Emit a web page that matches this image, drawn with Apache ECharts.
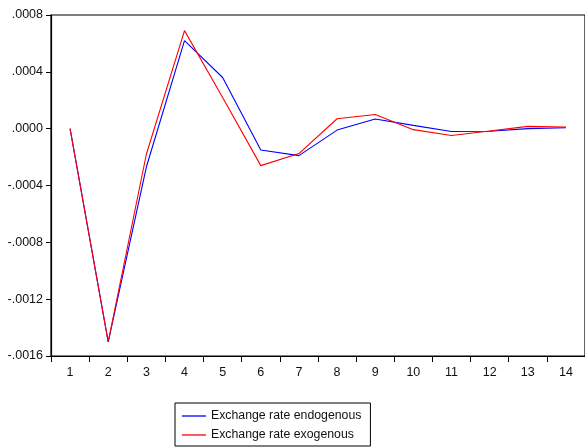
<!DOCTYPE html>
<html>
<head>
<meta charset="utf-8">
<script src="https://cdn.jsdelivr.net/npm/echarts@6/dist/echarts.min.js"></script>
<style>
  html, body { margin: 0; padding: 0; background: #fff; }
  #chart { width: 585px; height: 448px; }
</style>
</head>
<body>
<div id="chart"></div>
<script>
// Response periods
const periods = ['1','2','3','4','5','6','7','8','9','10','11','12','13','14'];

// Response of the exchange rate, endogenous specification
const endogenous = [0, -0.0015, -0.00027, 0.00062, 0.00036, -0.00015, -0.00019,
  -0.00001, 0.000068, 0.000023, -0.00002, -0.000018, 0.0, 0.000006];

// Response of the exchange rate, exogenous specification
const exogenous = [0, -0.0015, -0.00018, 0.00069, 0.00022, -0.00026, -0.000175,
  0.00007, 0.0001, -0.000007, -0.000048, -0.000016, 0.000016, 0.000012];

const seriesNames = ['Exchange rate endogenous', 'Exchange rate exogenous'];

const fontFamily = 'Liberation Sans, Arial, sans-serif';

// ".0008", "-.0004" style tick labels
function fmt(v) {
  let s = (Math.abs(v) < 1e-12 ? 0 : v).toFixed(4);
  return s.replace(/^(-?)0\./, '$1.');
}

const chart = echarts.init(document.getElementById('chart'), null, { renderer: 'canvas' });

chart.setOption({
  animation: false,
  backgroundColor: '#fff',
  grid: {
    left: 51, top: 15, right: -2, bottom: 92,
    show: true, borderColor: '#000', borderWidth: 1.2, backgroundColor: 'transparent'
  },
  legend: {
    orient: 'vertical',
    left: 175, top: 403,
    data: seriesNames,
    icon: 'rect',
    itemWidth: 24, itemHeight: 1.3,
    itemGap: 5,
    padding: [6, 9, 4, 7],
    borderColor: '#000', borderWidth: 1,
    textStyle: { fontFamily: fontFamily, fontSize: 12.3, color: '#111', lineHeight: 14 }
  },
  xAxis: {
    type: 'category',
    data: periods,
    boundaryGap: true,
    axisLine: { onZero: false, lineStyle: { color: '#000', width: 1.2 } },
    axisTick: { show: true, length: 6, lineStyle: { color: '#000', width: 1 } },
    axisLabel: { margin: 10, fontFamily: fontFamily, fontSize: 12.5, color: '#111' },
    splitLine: { show: false }
  },
  yAxis: {
    type: 'value',
    min: -0.0016, max: 0.0008, interval: 0.0004,
    axisLine: { show: true, lineStyle: { color: '#000', width: 1.2 } },
    axisTick: { show: true, length: 5, lineStyle: { color: '#000', width: 1 } },
    axisLabel: { margin: 8, fontFamily: fontFamily, fontSize: 12.5, color: '#111', formatter: fmt },
    splitLine: { show: false }
  },
  series: [
    {
      name: seriesNames[0], type: 'line', data: endogenous,
      symbol: 'none', color: '#0000ff',
      lineStyle: { color: '#0000ff', width: 1.1 }
    },
    {
      name: seriesNames[1], type: 'line', data: exogenous,
      symbol: 'none', color: '#ff0000',
      lineStyle: { color: '#ff0000', width: 1.1 }
    }
  ]
});
</script>
</body>
</html>
